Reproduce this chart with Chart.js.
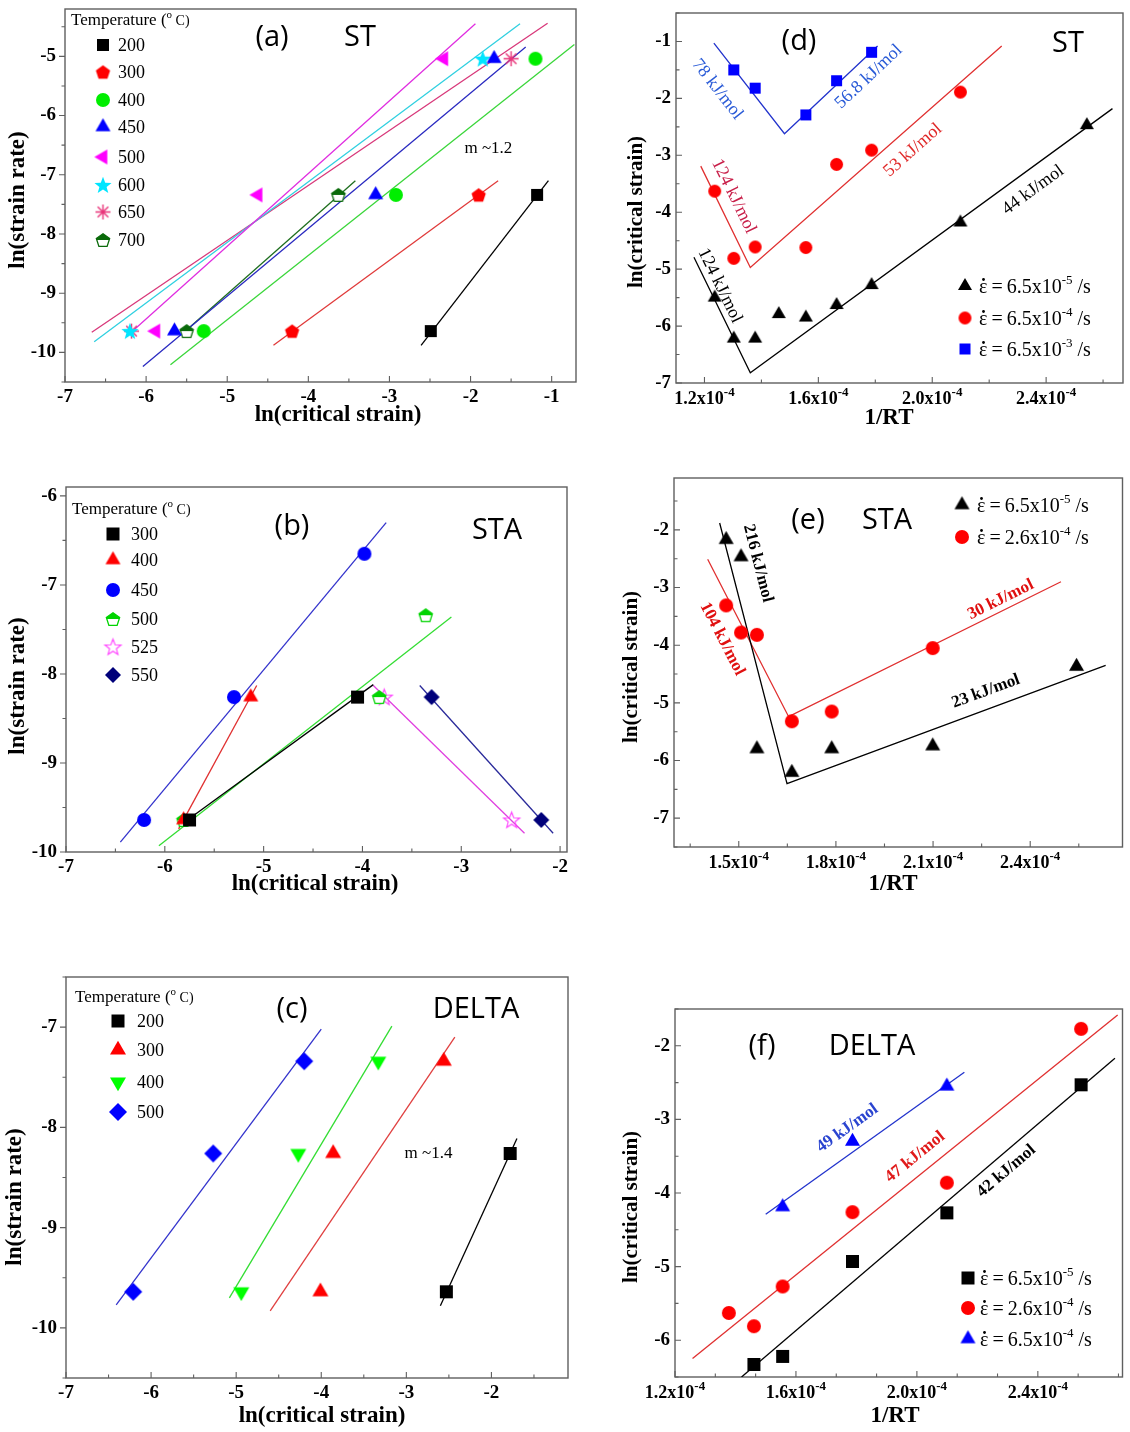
<!DOCTYPE html>
<html>
<head>
<meta charset="utf-8">
<title>Critical strain analysis: ST, STA and DELTA</title>
<script src="https://cdn.jsdelivr.net/npm/chart.js@4.4.1/dist/chart.umd.min.js"></script>
<style>
  html, body { margin: 0; padding: 0; background: #ffffff; }
  #figure { position: relative; width: 1130px; height: 1432px; overflow: hidden; background: #ffffff; }
  #figure canvas { position: absolute; left: 0; top: 0; }
</style>
</head>
<body>
<div id="figure"></div>
<script>
const W = 1130, H = 1432;
const SERIF = '"Liberation Serif", "Times New Roman", serif';
const SANS = '"Open Sans", "Noto Sans", sans-serif';

// ---------- (a) ST: ln(strain rate) vs ln(critical strain), by temperature ----------
const aSeries = ['200', '300', '400', '450', '500', '600', '650', '700'];
const aPointX = [[-2.49, -1.18], [-4.20, -1.90], [-5.29, -2.92, -1.20], [-5.65, -3.17, -1.71],
                 [-5.88, -4.62, -2.33], [-6.20, -1.85], [-6.18, -1.50], [-5.50, -3.63]];
const aPointY = [[-9.64, -7.34], [-9.64, -7.34], [-9.64, -7.34, -5.04], [-9.64, -7.34, -5.04],
                 [-9.64, -7.34, -5.04], [-9.64, -5.04], [-9.64, -5.04], [-9.64, -7.34]];
const aFitX = [[-2.61, -1.04], [-4.43, -1.66], [-5.70, -0.72], [-6.04, -1.32],
               [-6.20, -1.94], [-6.64, -1.39], [-6.67, -1.05], [-5.55, -3.42]];
const aFitY = [[-9.88, -7.10], [-9.88, -7.10], [-10.21, -4.80], [-10.24, -4.84],
               [-9.68, -4.45], [-9.82, -4.45], [-9.66, -4.44], [-9.68, -7.10]];
const aXTicks = [-7, -6, -5, -4, -3, -2, -1];
const aYTicks = [-10, -9, -8, -7, -6, -5];
const aSlope = 1.2;

// ---------- (b) STA ----------
const bSeries = ['300', '400', '450', '500', '525', '550'];
const bPointX = [[-5.75, -4.05], [-5.81, -5.13], [-6.21, -5.30, -3.98], [-5.81, -3.83, -3.36], [-3.78, -2.49], [-3.30, -2.19]];
const bPointY = [[-9.64, -8.26], [-9.64, -8.26], [-9.64, -8.26, -6.65], [-9.64, -8.26, -7.34], [-8.26, -9.64], [-8.26, -9.64]];
const bFitX = [[-5.82, -3.89], [-5.86, -5.07], [-6.45, -3.76], [-6.06, -3.10], [-3.89, -2.36], [-3.42, -2.07]];
const bFitY = [[-9.68, -8.12], [-9.74, -8.13], [-9.89, -6.30], [-9.93, -7.36], [-8.13, -9.79], [-8.13, -9.79]];
const bXTicks = [-7, -6, -5, -4, -3, -2];
const bYTicks = [-10, -9, -8, -7, -6];

// ---------- (c) DELTA ----------
const cSeries = ['200', '300', '400', '500'];
const cPointX = [[-2.53, -1.78], [-4.01, -3.86, -2.56], [-4.94, -4.27, -3.33], [-6.21, -5.27, -4.20]];
const cPointY = [[-9.64, -8.26], [-9.64, -8.26, -7.34], [-9.64, -8.26, -7.34], [-9.64, -8.26, -7.34]];
const cFitX = [[-2.60, -1.70], [-4.60, -2.43], [-5.08, -3.17], [-6.41, -4.00]];
const cFitY = [[-9.78, -8.11], [-9.83, -7.10], [-9.70, -6.99], [-9.77, -7.02]];
const cXTicks = [-7, -6, -5, -4, -3, -2];
const cYTicks = [-10, -9, -8, -7];
const cSlope = 1.4;

// ---------- (d) ST: ln(critical strain) vs 1/RT, by strain rate ----------
const dRateMant = ['6.5', '6.5', '6.5'];
const dRateExp = ['-5', '-4', '-3'];
const dPointX = [[1.236e-4, 1.303e-4, 1.378e-4, 1.461e-4, 1.556e-4, 1.664e-4, 1.787e-4, 2.099e-4, 2.543e-4],
                 [1.236e-4, 1.303e-4, 1.378e-4, 1.556e-4, 1.664e-4, 1.787e-4, 2.099e-4],
                 [1.303e-4, 1.378e-4, 1.556e-4, 1.664e-4, 1.787e-4]];
const dPointY = [[-5.50, -6.22, -6.22, -5.79, -5.85, -5.63, -5.28, -4.18, -2.47],
                 [-3.63, -4.81, -4.61, -4.62, -3.16, -2.91, -1.89],
                 [-1.50, -1.82, -2.29, -1.69, -1.19]];
const dFitX = [[1.163e-4, 1.361e-4, 2.633e-4], [1.187e-4, 1.361e-4, 2.244e-4], [1.233e-4, 1.481e-4, 1.808e-4]];
const dFitY = [[-4.79, -6.82, -2.18], [-3.19, -4.97, -1.08], [-1.03, -2.62, -1.08]];
const dActivation = [78, 56.8, 124, 53, 124, 44];
const dXTicks = [1.2e-4, 1.6e-4, 2.0e-4, 2.4e-4];
const dXTickLabels = ['1.2', '1.6', '2.0', '2.4'];
const dYTicks = [-7, -6, -5, -4, -3, -2, -1];

// ---------- (e) STA ----------
const eRateMant = ['6.5', '2.6'];
const eRateExp = ['-5', '-4'];
const ePointX = [[1.461e-4, 1.507e-4, 1.556e-4, 1.664e-4, 1.787e-4, 2.099e-4, 2.543e-4],
                 [1.461e-4, 1.507e-4, 1.556e-4, 1.664e-4, 1.787e-4, 2.099e-4]];
const ePointY = [[-2.17, -2.47, -5.80, -6.21, -5.80, -5.75, -4.37],
                 [-3.31, -3.78, -3.82, -5.32, -5.15, -4.05]];
const eFitX = [[1.441e-4, 1.649e-4, 2.633e-4], [1.404e-4, 1.654e-4, 2.495e-4]];
const eFitY = [[-1.88, -6.40, -4.35], [-2.51, -5.24, -2.90]];
const eActivation = [216, 104, 30, 23];
const eXTicks = [1.5e-4, 1.8e-4, 2.1e-4, 2.4e-4];
const eXTickLabels = ['1.5', '1.8', '2.1', '2.4'];
const eYTicks = [-7, -6, -5, -4, -3, -2];

// ---------- (f) DELTA ----------
const fRateMant = ['6.5', '2.6', '6.5'];
const fRateExp = ['-5', '-4', '-4'];
const fPointX = [[1.461e-4, 1.556e-4, 1.787e-4, 2.099e-4, 2.543e-4],
                 [1.378e-4, 1.461e-4, 1.556e-4, 1.787e-4, 2.099e-4, 2.543e-4],
                 [1.556e-4, 1.787e-4, 2.099e-4]];
const fPointY = [[-6.33, -6.22, -4.93, -4.27, -2.53],
                 [-5.63, -5.81, -5.27, -4.26, -3.86, -1.77],
                 [-4.19, -3.30, -2.55]];
const fFitX = [[1.42e-4, 2.655e-4], [1.258e-4, 2.664e-4], [1.50e-4, 2.157e-4]];
const fFitY = [[-6.50, -2.17], [-6.25, -1.58], [-4.29, -2.36]];
const fActivation = [49, 47, 42];
const fXTicks = [1.2e-4, 1.6e-4, 2.0e-4, 2.4e-4];
const fXTickLabels = ['1.2', '1.6', '2.0', '2.4'];
const fYTicks = [-6, -5, -4, -3, -2];

// ---------- marker and line styles ----------
const aMarkShape = ['square', 'pentagon', 'circle', 'triangle', 'triLeft', 'star5', 'asterisk', 'pentHalf'];
const aMarkColor = ['#000000', '#ff0000', '#00ee00', '#0000ff', '#ff00ff', '#00e5ff', '#e8357a', '#0a6a0a'];
const aMarkSize = [12, 15, 14, 15, 15, 18, 15, 14];
const aLineColor = ['#000000', '#e03a3a', '#3ad63a', '#2a2ac0', '#e02ee0', '#30d0e0', '#d8387a', '#1e6e1e'];

const bMarkShape = ['square', 'triangle', 'circle', 'pentHalf', 'star5o', 'diamond'];
const bMarkColor = ['#000000', '#ff0000', '#0000ff', '#00d400', '#ff40ff', '#00007a'];
const bMarkSize = [13, 15, 14, 14, 17, 16];
const bLineColor = ['#000000', '#e03030', '#3333cc', '#33dd33', '#e040e0', '#2a2a9a'];

const cMarkShape = ['square', 'triangle', 'triDown', 'diamond'];
const cMarkColor = ['#000000', '#ff0000', '#00ff00', '#0000ff'];
const cMarkSize = [13, 16, 16, 18];
const cLineColor = ['#000000', '#e04040', '#33dd33', '#3333cc'];

const dMarkShape = ['triangle', 'circle', 'square'];
const dMarkColor = ['#000000', '#ff0000', '#0000ff'];
const dMarkSize = [14, 13, 11];
const dLineColor = ['#000000', '#e03030', '#2233cc'];

const eMarkShape = ['triangle', 'circle'];
const eMarkColor = ['#000000', '#ff0000'];
const eMarkSize = [15, 14];
const eLineColor = ['#000000', '#e03030'];

const fMarkShape = ['square', 'circle', 'triangle'];
const fMarkColor = ['#000000', '#ff0000', '#0000ff'];
const fMarkSize = [13, 14, 15];
const fLineColor = ['#000000', '#e03030', '#2233cc'];

// ---------- drawing helpers ----------
function markerCanvas(kind, color, size) {
  const pad = 3;
  const s = Math.ceil(size + pad * 2);
  const c = document.createElement('canvas');
  c.width = s; c.height = s;
  const g = c.getContext('2d');
  const cx = s / 2, cy = s / 2, r = size / 2;
  g.fillStyle = color; g.strokeStyle = color; g.lineWidth = 1.3;
  const poly = (pts) => {
    g.beginPath();
    pts.forEach(([x, y], k) => (k ? g.lineTo(x, y) : g.moveTo(x, y)));
    g.closePath();
  };
  const tri = (rot) => {
    const R = size / Math.sqrt(3);
    const pts = [];
    for (let k = 0; k < 3; k++) {
      const a = rot - Math.PI / 2 + k * 2 * Math.PI / 3;
      pts.push([cx + R * Math.cos(a), cy + R * Math.sin(a)]);
    }
    return pts;
  };
  switch (kind) {
    case 'square': g.fillRect(cx - r, cy - r, size, size); break;
    case 'circle': g.beginPath(); g.arc(cx, cy, r, 0, 2 * Math.PI); g.fill(); break;
    case 'triangle': poly(tri(0)); g.fill(); break;
    case 'triLeft': poly(tri(-Math.PI / 2)); g.fill(); break;
    case 'triDown': poly(tri(Math.PI)); g.fill(); break;
    case 'diamond': poly([[cx, cy - r], [cx + r, cy], [cx, cy + r], [cx - r, cy]]); g.fill(); break;
    case 'pentagon':
    case 'pentHalf': {
      const pts = [];
      for (let k = 0; k < 5; k++) {
        const a = -Math.PI / 2 + k * 2 * Math.PI / 5;
        pts.push([cx + r * Math.cos(a), cy + r * Math.sin(a) + r * 0.1]);
      }
      if (kind === 'pentagon') { poly(pts); g.fill(); }
      else {
        poly(pts); g.fillStyle = '#ffffff'; g.fill();
        g.save(); poly(pts); g.clip(); g.fillStyle = color; g.fillRect(0, 0, s, cy); g.restore();
        poly(pts); g.stroke();
      }
      break;
    }
    case 'star5':
    case 'star5o': {
      const pts = [];
      for (let k = 0; k < 10; k++) {
        const a = -Math.PI / 2 + k * Math.PI / 5;
        const rr = k % 2 ? r * 0.42 : r;
        pts.push([cx + rr * Math.cos(a), cy + rr * Math.sin(a) + r * 0.08]);
      }
      poly(pts);
      if (kind === 'star5') g.fill();
      else { g.lineWidth = 1.1; g.stroke(); }
      break;
    }
    case 'asterisk': {
      g.lineWidth = 1.4;
      g.beginPath();
      for (let k = 0; k < 4; k++) {
        const a = k * Math.PI / 4;
        g.moveTo(cx - r * Math.cos(a), cy - r * Math.sin(a));
        g.lineTo(cx + r * Math.cos(a), cy + r * Math.sin(a));
      }
      g.stroke();
      break;
    }
  }
  return c;
}

// draws a run of text pieces (with raised superscripts / dotted epsilon) from a baseline
function drawRich(ctx, parts, x, y, align) {
  let total = 0;
  parts.forEach(p => { ctx.font = p.font; p.w = ctx.measureText(p.t).width; total += p.w; });
  let cx = align === 'center' ? x - total / 2 : (align === 'right' ? x - total : x);
  ctx.textAlign = 'left';
  ctx.textBaseline = 'alphabetic';
  parts.forEach(p => {
    ctx.font = p.font;
    ctx.fillText(p.t, cx, y + (p.dy || 0));
    if (p.dot) {
      ctx.beginPath();
      ctx.arc(cx + p.w / 2 + 0.3, y - p.dotH, 1.4, 0, 2 * Math.PI);
      ctx.fill();
    }
    cx += p.w;
  });
}

function sciParts(mant, exp, size) {
  return [
    { t: mant + 'x10', font: `bold ${size}px ${SERIF}` },
    { t: exp, font: `bold ${Math.round(size * 0.7)}px ${SERIF}`, dy: -Math.round(size * 0.45) }
  ];
}

function rateParts(mant, exp) {
  return [
    { t: '\u03b5', font: `20px ${SERIF}`, dot: true, dotH: 13.5 },
    { t: '\u2009=\u2009' + mant + 'x10', font: `20px ${SERIF}` },
    { t: exp, font: `13px ${SERIF}`, dy: -9 },
    { t: ' /s', font: `20px ${SERIF}` }
  ];
}

function tickValues(majors, minorCount, range) {
  const out = [];
  const step = majors[1] - majors[0];
  const eps = Math.abs(step) * 1e-6;
  majors.forEach(v => out.push([v, true]));
  for (let m = majors[0] - step; m <= range[1] + eps; m += step) {
    for (let k = 1; k <= minorCount; k++) {
      const v = m + k * step / (minorCount + 1);
      if (v >= range[0] - eps && v <= range[1] + eps) out.push([v, false]);
    }
  }
  return out;
}

function buildDatasets(p) {
  const ds = [];
  p.px.forEach((xs, i) => {
    ds.push({
      data: xs.map((x, j) => ({ x, y: p.py[i][j] })),
      showLine: false, order: 0, clip: false,
      pointStyle: p.marks[i], pointRadius: p.size[i] / 2, pointHoverRadius: p.size[i] / 2,
      pointBorderWidth: 0, backgroundColor: p.color[i], borderColor: p.color[i]
    });
    ds.push({
      data: p.fx[i].map((x, j) => ({ x, y: p.fy[i][j] })),
      showLine: true, order: 1, pointRadius: 0, pointHoverRadius: 0,
      borderColor: p.line[i], borderWidth: 1.3, fill: false, tension: 0
    });
  });
  return ds;
}

// frame, inward/outward ticks, tick labels, titles, annotations and legend
function decorPlugin(p) {
  return {
    id: 'panelDecor',
    beforeDatasetsDraw(chart) {
      const { ctx, chartArea: a } = chart;
      const xs = chart.scales.x, ys = chart.scales.y;
      ctx.save();
      ctx.strokeStyle = '#5f5f5f';
      ctx.lineWidth = 1.4;
      ctx.strokeRect(a.left, a.top, a.right - a.left, a.bottom - a.top);
      ctx.lineWidth = 1.1;
      ctx.beginPath();
      tickValues(p.xTicks, p.xMinor, p.xRange).forEach(([v, major]) => {
        const px = xs.getPixelForValue(v);
        ctx.moveTo(px, a.bottom);
        ctx.lineTo(px, a.bottom - (major ? 6 : 3.5));
      });
      const dir = p.yOut ? -1 : 1;
      tickValues(p.yTicks, p.yMinor, p.yRange).forEach(([v, major]) => {
        const py = ys.getPixelForValue(v);
        ctx.moveTo(a.left, py);
        ctx.lineTo(a.left + dir * (major ? 6 : 3.5), py);
      });
      ctx.stroke();
      ctx.restore();
    },
    afterDatasetsDraw(chart) {
      const { ctx, chartArea: a } = chart;
      const xs = chart.scales.x, ys = chart.scales.y;
      ctx.save();
      ctx.fillStyle = '#000000';
      const tickFont = `bold 19px ${SERIF}`;
      p.xTicks.forEach((v, i) => {
        const px = xs.getPixelForValue(v);
        if (p.xLabels) {
          drawRich(ctx, sciParts(p.xLabels[i], '-4', 18), px, a.bottom + 21, 'center');
        } else {
          ctx.font = tickFont; ctx.textAlign = 'center'; ctx.textBaseline = 'middle';
          ctx.fillText(String(v), px, a.bottom + 15);
        }
      });
      p.yTicks.forEach(v => {
        const py = ys.getPixelForValue(v);
        ctx.font = tickFont; ctx.textAlign = 'right'; ctx.textBaseline = 'middle';
        ctx.fillText(String(v), a.left - (p.yOut ? 9 : 5), py);
      });

      ctx.textAlign = 'center'; ctx.textBaseline = 'middle';
      ctx.font = `bold 23px ${SERIF}`;
      ctx.fillText(p.xTitle[0], p.xTitle[1], p.xTitle[2]);
      ctx.save();
      ctx.font = `bold ${p.yTitleSize}px ${SERIF}`;
      ctx.translate(p.yTitle[1], p.yTitle[2]);
      ctx.rotate(-Math.PI / 2);
      ctx.fillText(p.yTitle[0], 0, 0);
      ctx.restore();

      ctx.font = `29px ${SANS}`;
      ctx.fillText(p.tag[0], p.tag[1], p.tag[2]);
      ctx.fillText(p.name[0], p.name[1], p.name[2]);

      (p.notes || []).forEach(n => {
        const px = xs.getPixelForValue(n.x), py = ys.getPixelForValue(n.y);
        let ang = 0;
        if (n.seg) {
          const [si, k] = n.seg;
          const x1 = xs.getPixelForValue(p.fx[si][k]), y1 = ys.getPixelForValue(p.fy[si][k]);
          const x2 = xs.getPixelForValue(p.fx[si][k + 1]), y2 = ys.getPixelForValue(p.fy[si][k + 1]);
          ang = Math.atan2(y2 - y1, x2 - x1);
        }
        ctx.save();
        ctx.translate(px, py);
        ctx.rotate(ang);
        ctx.font = n.font; ctx.fillStyle = n.color;
        ctx.textAlign = 'center'; ctx.textBaseline = 'middle';
        ctx.fillText(n.text, 0, 0);
        ctx.restore();
      });

      const L = p.legend;
      ctx.fillStyle = '#000000';
      if (L.header) {
        drawRich(ctx, [
          { t: 'Temperature (', font: `17px ${SERIF}` },
          { t: 'o', font: `11px ${SERIF}`, dy: -7 },
          { t: ' C)', font: `14px ${SERIF}` }
        ], L.header[0], L.header[1], 'left');
      }
      L.ys.forEach((y, i) => {
        const m = p.marks[i];
        ctx.drawImage(m, L.mx - m.width / 2, y - m.height / 2);
        ctx.fillStyle = '#000000';
        if (L.rates) {
          drawRich(ctx, rateParts(L.rates[0][i], L.rates[1][i]), L.tx, y + 7, 'left');
        } else {
          ctx.font = `18px ${SERIF}`; ctx.textAlign = 'left'; ctx.textBaseline = 'middle';
          ctx.fillText(L.labels[i], L.tx, y + 1);
        }
      });
      ctx.restore();
    }
  };
}

const kj = v => `${v} kJ/mol`;

const panels = [
  {
    frame: [65, 4, 576, 382], xRange: [-7, -0.7], yRange: [-10.5, -4.2],
    xTicks: aXTicks, yTicks: aYTicks, xMinor: 1, yMinor: 1, yOut: true,
    xTitle: ['ln(critical strain)', 338, 415], yTitle: ['ln(strain rate)', 18, 200], yTitleSize: 23,
    tag: ['(a)', 272, 38], name: ['ST', 360, 38],
    px: aPointX, py: aPointY, fx: aFitX, fy: aFitY,
    shape: aMarkShape, color: aMarkColor, size: aMarkSize, line: aLineColor,
    legend: { header: [71, 25], mx: 103, tx: 118, ys: [45, 72, 100, 127, 157, 185, 212, 240], labels: aSeries },
    notes: [{ text: 'm ~' + aSlope, x: -1.78, y: -6.56, color: '#000000', font: `17px ${SERIF}` }]
  },
  {
    frame: [66, 487, 567, 852], xRange: [-7, -1.93], yRange: [-10, -5.9],
    xTicks: bXTicks, yTicks: bYTicks, xMinor: 1, yMinor: 1, yOut: true,
    xTitle: ['ln(critical strain)', 315, 884], yTitle: ['ln(strain rate)', 18, 686], yTitleSize: 23,
    tag: ['(b)', 292, 527], name: ['STA', 497, 531],
    px: bPointX, py: bPointY, fx: bFitX, fy: bFitY,
    shape: bMarkShape, color: bMarkColor, size: bMarkSize, line: bLineColor,
    legend: { header: [72, 514], mx: 113, tx: 131, ys: [534, 560, 590, 619, 647, 675], labels: bSeries },
    notes: []
  },
  {
    frame: [66, 977, 568, 1378], xRange: [-7, -1.1], yRange: [-10.5, -6.5],
    xTicks: cXTicks, yTicks: cYTicks, xMinor: 1, yMinor: 1, yOut: true,
    xTitle: ['ln(critical strain)', 322, 1416], yTitle: ['ln(strain rate)', 15, 1197], yTitleSize: 23,
    tag: ['(c)', 292, 1010], name: ['DELTA', 476, 1010],
    px: cPointX, py: cPointY, fx: cFitX, fy: cFitY,
    shape: cMarkShape, color: cMarkColor, size: cMarkSize, line: cLineColor,
    legend: { header: [75, 1002], mx: 118, tx: 137, ys: [1021, 1050, 1082, 1112], labels: cSeries },
    notes: [{ text: 'm ~' + cSlope, x: -2.74, y: -8.26, color: '#000000', font: `17px ${SERIF}` }]
  },
  {
    frame: [676, 13, 1127, 383], xRange: [1.1e-4, 2.67e-4], yRange: [-7, -0.5],
    xTicks: dXTicks, xLabels: dXTickLabels, yTicks: dYTicks, xMinor: 1, yMinor: 1, yOut: false,
    xTitle: ['1/RT', 889, 418], yTitle: ['ln(critical strain)', 637, 212], yTitleSize: 21,
    tag: ['(d)', 799, 42], name: ['ST', 1068, 44],
    px: dPointX, py: dPointY, fx: dFitX, fy: dFitY,
    shape: dMarkShape, color: dMarkColor, size: dMarkSize, line: dLineColor,
    legend: { mx: 965, tx: 979, ys: [286, 318, 349], rates: [dRateMant, dRateExp] },
    notes: [
      { text: kj(dActivation[0]), x: 1.245e-4, y: -1.84, seg: [2, 0], color: '#2a5bd7', font: `18px ${SERIF}` },
      { text: kj(dActivation[1]), x: 1.777e-4, y: -1.62, seg: [2, 1], color: '#2a5bd7', font: `18px ${SERIF}` },
      { text: kj(dActivation[2]), x: 1.303e-4, y: -3.72, seg: [1, 0], color: '#c8204a', font: `18px ${SERIF}` },
      { text: kj(dActivation[3]), x: 1.932e-4, y: -2.91, seg: [1, 1], color: '#e02a2a', font: `18px ${SERIF}` },
      { text: kj(dActivation[4]), x: 1.254e-4, y: -5.29, seg: [0, 0], color: '#000000', font: `18px ${SERIF}` },
      { text: kj(dActivation[5]), x: 2.354e-4, y: -3.61, seg: [0, 1], color: '#000000', font: `18px ${SERIF}` }
    ]
  },
  {
    frame: [674, 478, 1129, 847], xRange: [1.3e-4, 2.685e-4], yRange: [-7.5, -1.1],
    xTicks: eXTicks, xLabels: eXTickLabels, yTicks: eYTicks, xMinor: 1, yMinor: 1, yOut: false,
    xTitle: ['1/RT', 893, 884], yTitle: ['ln(critical strain)', 632, 667], yTitleSize: 21,
    tag: ['(e)', 808, 521], name: ['STA', 887, 521],
    px: ePointX, py: ePointY, fx: eFitX, fy: eFitY,
    shape: eMarkShape, color: eMarkColor, size: eMarkSize, line: eLineColor,
    legend: { mx: 962, tx: 977, ys: [505, 537], rates: [eRateMant, eRateExp] },
    notes: [
      { text: kj(eActivation[0]), x: 1.559e-4, y: -2.58, seg: [0, 0], color: '#000000', font: `bold 17px ${SERIF}` },
      { text: kj(eActivation[1]), x: 1.449e-4, y: -3.89, seg: [1, 0], color: '#e01010', font: `bold 17px ${SERIF}` },
      { text: kj(eActivation[2]), x: 2.309e-4, y: -3.21, seg: [1, 1], color: '#e01010', font: `bold 17px ${SERIF}` },
      { text: kj(eActivation[3]), x: 2.263e-4, y: -4.80, seg: [0, 1], color: '#000000', font: `bold 17px ${SERIF}` }
    ]
  },
  {
    frame: [675, 1009, 1128, 1377], xRange: [1.2e-4, 2.68e-4], yRange: [-6.5, -1.5],
    xTicks: fXTicks, xLabels: fXTickLabels, yTicks: fYTicks, xMinor: 2, yMinor: 1, yOut: false,
    xTitle: ['1/RT', 895, 1416], yTitle: ['ln(critical strain)', 632, 1207], yTitleSize: 21,
    tag: ['(f)', 762, 1047], name: ['DELTA', 872, 1047],
    px: fPointX, py: fPointY, fx: fFitX, fy: fFitY,
    shape: fMarkShape, color: fMarkColor, size: fMarkSize, line: fLineColor,
    legend: { mx: 968, tx: 980, ys: [1278, 1308, 1339], rates: [fRateMant, fRateExp] },
    notes: [
      { text: kj(fActivation[0]), x: 1.770e-4, y: -3.12, seg: [2, 0], color: '#2a44d0', font: `bold 17px ${SERIF}` },
      { text: kj(fActivation[1]), x: 1.994e-4, y: -3.51, seg: [1, 0], color: '#e01a1a', font: `bold 17px ${SERIF}` },
      { text: kj(fActivation[2]), x: 2.296e-4, y: -3.70, seg: [0, 0], color: '#000000', font: `bold 17px ${SERIF}` }
    ]
  }
];

const host = document.getElementById('figure');
panels.forEach(p => {
  const canvas = document.createElement('canvas');
  canvas.width = W; canvas.height = H;
  canvas.style.width = W + 'px'; canvas.style.height = H + 'px';
  host.appendChild(canvas);
  p.marks = p.shape.map((s, i) => markerCanvas(s, p.color[i], p.size[i]));
  const [L, T, R, B] = p.frame;
  new Chart(canvas.getContext('2d'), {
    type: 'scatter',
    data: { datasets: buildDatasets(p) },
    options: {
      responsive: false, animation: false, devicePixelRatio: 1, events: [],
      layout: { padding: { left: L, top: T, right: W - R, bottom: H - B } },
      scales: {
        x: { type: 'linear', display: false, min: p.xRange[0], max: p.xRange[1] },
        y: { type: 'linear', display: false, min: p.yRange[0], max: p.yRange[1] }
      },
      plugins: { legend: { display: false }, tooltip: { enabled: false } }
    },
    plugins: [decorPlugin(p)]
  });
});
</script>
</body>
</html>
